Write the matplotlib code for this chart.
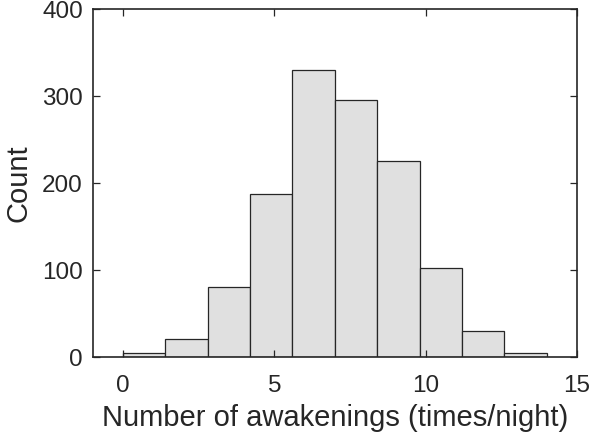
import numpy as np
import matplotlib
matplotlib.use("Agg")
import matplotlib.pyplot as plt

plt.rcParams.update({
    "font.family": ["Liberation Sans", "DejaVu Sans"],
    "text.color": "#262626",
    "axes.labelcolor": "#262626",
    "xtick.color": "#262626",
    "ytick.color": "#262626",
})

# histogram bins (awakenings per night) and counts
bin_edges = [0.0, 1.4, 2.8, 4.2, 5.6, 7.0, 8.4, 9.8, 11.2, 12.6, 14.0]
counts = [5, 21, 81, 188, 330, 296, 225, 103, 30, 5]

xticks = [0, 5, 10, 15]
yticks = [0, 100, 200, 300, 400]

fig = plt.figure(figsize=(5.9, 4.34), dpi=100)
ax = fig.add_axes([0.157, 0.177, 0.821, 0.802])

edges = np.array(bin_edges)
ax.bar(edges[:-1], counts, width=np.diff(edges), align="edge",
       color="#e0e0e0", edgecolor="#262626", linewidth=0.9)

ax.set_xlim(-1, 15)
ax.set_ylim(0, 400)
ax.set_xticks(xticks)
ax.set_yticks(yticks)
ax.tick_params(direction="in", top=True, right=True, length=5, width=0.9,
               labelsize=17.5)
ax.tick_params(axis="x", pad=13)
ax.tick_params(axis="y", pad=7)
for s in ax.spines.values():
    s.set_linewidth(1.2)
    s.set_color("#262626")

ax.set_xlabel("Number of awakenings (times/night)", fontsize=21, labelpad=5)
ax.set_ylabel("Count", fontsize=21, labelpad=7)

fig.savefig("out.png", dpi=100)
